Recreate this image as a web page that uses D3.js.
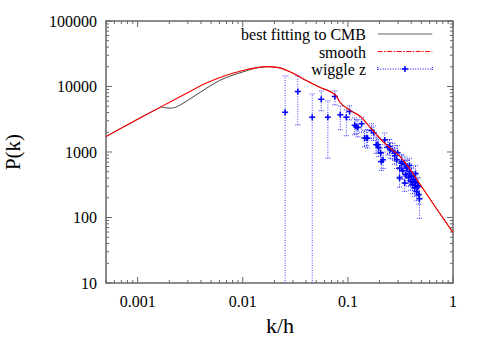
<!DOCTYPE html>
<html>
<head>
<meta charset="utf-8">
<script src="https://cdn.jsdelivr.net/npm/d3@7"></script>
<style>
  body { margin: 0; background: #fff; }
  text { font-family: "Liberation Serif", "DejaVu Serif", serif; fill: #000; }
</style>
</head>
<body>
<div id="chart"></div>
<script>
// smooth (no-wiggle) spectrum
const smoothK = [0.0005, 0.001, 0.00173, 0.0025, 0.00334, 0.0045, 0.006, 0.008, 0.01, 0.014, 0.017, 0.022, 0.0278, 0.0402, 0.0537, 0.072, 0.0775, 0.0832, 0.1035, 0.134, 0.15, 0.216, 0.334, 0.5, 0.7, 1];
const smoothP = [1720, 3170, 5060, 6900, 8870, 11300, 13600, 15900, 17500, 19600, 20100, 19400, 16900, 12300, 9750, 7910, 7200, 5890, 4400, 3400, 2760, 1440, 760, 300, 135, 59];

// best fitting to CMB (dips at low k)
const cmbK = [0.0005, 0.001, 0.0015, 0.0017, 0.0019, 0.0021, 0.0025, 0.003, 0.004, 0.006, 0.01, 0.014, 0.017, 0.022, 0.0278, 0.0402, 0.0537, 0.072, 0.0775, 0.0832, 0.1035, 0.134, 0.15, 0.216, 0.334, 0.5, 0.7, 1];
const cmbP = [1720, 3170, 4450, 4850, 4700, 4680, 5150, 6150, 8300, 12300, 16700, 19400, 20100, 19400, 16900, 12300, 9750, 7910, 7200, 5890, 4400, 3400, 2760, 1440, 760, 300, 135, 59];

// wiggle z data with error bars
const wzK = [0.0253, 0.0334, 0.0458, 0.0558, 0.0645, 0.0752, 0.0847, 0.0966, 0.1038, 0.116, 0.1245, 0.135, 0.144, 0.154, 0.168, 0.176, 0.186, 0.196, 0.205, 0.216, 0.224, 0.24, 0.252, 0.267, 0.279, 0.291, 0.297, 0.311, 0.325, 0.333, 0.348, 0.356, 0.367, 0.378, 0.387, 0.396, 0.404, 0.413, 0.423, 0.432, 0.442, 0.452, 0.462, 0.48, 0.472,
  0.12, 0.15, 0.193, 0.249, 0.279, 0.208, 0.322, 0.36, 0.31, 0.402, 0.432, 0.464, 0.347, 0.385, 0.44];
const wzP = [4060, 8360, 3400, 6400, 3400, 7010, 3690, 3400, 4140, 2550, 2370, 2690, 1640, 1620, 2130, 1960, 1290, 1160, 970, 760, 1530, 1190, 1080, 1040, 875, 760, 970, 570, 710, 516, 638, 449, 574, 405, 499, 352, 434, 316, 377, 285, 339, 247, 305, 194, 224,
  2450, 1630, 1290, 1210, 960, 716, 675, 568, 400, 424, 355, 298, 336, 620, 470];
const wzLo = [1, 2600, 1, 4250, 807, 5250, 2180, 1770, 3100, 1830, 1700, 2000, 1200, 1150, 1600, 1500, 950, 850, 700, 560, 1150, 900, 800, 780, 650, 560, 720, 420, 530, 380, 470, 330, 420, 300, 370, 260, 320, 230, 280, 210, 250, 180, 220, 97, 160,
  1900, 1250, 1000, 950, 740, 520, 500, 420, 290, 310, 260, 220, 250, 470, 350];
const wzHi = [14500, 14500, 7710, 8570, 6030, 8570, 5060, 4400, 5060, 3320, 3100, 3400, 2150, 2200, 2700, 2500, 1750, 1550, 1300, 1000, 1950, 1550, 1400, 1350, 1150, 1000, 1250, 760, 920, 690, 840, 600, 760, 540, 660, 470, 580, 430, 500, 390, 450, 340, 410, 290, 310,
  3100, 2100, 1650, 1550, 1250, 950, 880, 750, 540, 560, 470, 400, 450, 800, 620];

const xTicks = [0.001, 0.01, 0.1, 1];
const yTicks = [10, 100, 1000, 10000, 100000];
const legendLabels = ["best fitting to CMB", "smooth", "wiggle z"];

const w = 485;
const h = 339;
const m = { left: 106, right: 32, top: 21, bottom: 56 };
const serif = "Liberation Serif, DejaVu Serif, serif";

const svg = d3
  .select("#chart")
  .append("svg")
  .attr("width", w)
  .attr("height", h);

const x = d3.scaleLog().domain([0.0005, 1]).range([m.left, w - m.right]);
const y = d3.scaleLog().domain([10, 100000]).range([h - m.bottom, m.top]);

svg.append("clipPath").attr("id", "clip")
  .append("rect")
  .attr("x", m.left).attr("y", m.top)
  .attr("width", w - m.left - m.right)
  .attr("height", h - m.top - m.bottom);

// minor + major ticks on all four sides, pointing inward
const axisColor = "#666";
const xMinor = [];
for (let e = -4; e <= 0; e++) for (let d = 1; d < 10; d++) {
  const v = d * Math.pow(10, e);
  if (v >= 0.0005 && v <= 1) xMinor.push(v);
}
const yMinor = [];
for (let e = 1; e <= 5; e++) for (let d = 1; d < 10; d++) {
  const v = d * Math.pow(10, e);
  if (v <= 100000) yMinor.push(v);
}

const ticks = svg.append("g").attr("stroke", axisColor).attr("stroke-width", 1);
xMinor.forEach((v) => {
  const len = xTicks.includes(v) ? 6 : 3;
  ticks.append("line").attr("x1", x(v)).attr("x2", x(v)).attr("y1", y.range()[0]).attr("y2", y.range()[0] - len);
  ticks.append("line").attr("x1", x(v)).attr("x2", x(v)).attr("y1", m.top).attr("y2", m.top + len);
});
yMinor.forEach((v) => {
  const len = yTicks.includes(v) ? 6 : 3;
  ticks.append("line").attr("y1", y(v)).attr("y2", y(v)).attr("x1", m.left).attr("x2", m.left + len);
  ticks.append("line").attr("y1", y(v)).attr("y2", y(v)).attr("x1", w - m.right).attr("x2", w - m.right - len);
});

svg.append("rect")
  .attr("x", m.left).attr("y", m.top)
  .attr("width", w - m.left - m.right)
  .attr("height", h - m.top - m.bottom)
  .attr("fill", "none")
  .attr("stroke", axisColor)
  .attr("stroke-width", 1.5);

// tick labels
svg.selectAll(".xl")
  .data(xTicks)
  .join("text")
  .attr("x", (d) => x(d))
  .attr("y", h - m.bottom + 24)
  .attr("text-anchor", "middle")
  .attr("font-family", serif)
  .attr("font-size", "16px")
  .text((d) => d);

svg.selectAll(".yl")
  .data(yTicks)
  .join("text")
  .attr("x", m.left - 9)
  .attr("y", (d) => y(d) + 5.5)
  .attr("text-anchor", "end")
  .attr("font-family", serif)
  .attr("font-size", "16px")
  .text((d) => d);

svg.append("text")
  .attr("x", 280)
  .attr("y", 333)
  .attr("text-anchor", "middle")
  .attr("font-family", serif)
  .attr("font-size", "22px")
  .text("k/h");

svg.append("text")
  .attr("transform", "translate(20,152) rotate(-90)")
  .attr("text-anchor", "middle")
  .attr("font-family", serif)
  .attr("font-size", "21px")
  .text("P(k)");

const plot = svg.append("g").attr("clip-path", "url(#clip)");

const line = d3.line().x((d) => x(d[0])).y((d) => y(d[1])).curve(d3.curveMonotoneX);

// wiggle z error bars
const wz = wzK.map((k, i) => ({ k: k, p: wzP[i], lo: wzLo[i], hi: wzHi[i] }));
const bars = plot.append("g").attr("stroke", "#0000ff").attr("stroke-width", 1);
bars.selectAll(".eb")
  .data(wz)
  .join("line")
  .attr("x1", (d) => x(d.k)).attr("x2", (d) => x(d.k))
  .attr("y1", (d) => y(d.lo)).attr("y2", (d) => y(d.hi))
  .attr("stroke-dasharray", "1,1.5")
  .attr("opacity", 0.75);
bars.selectAll(".capt")
  .data(wz)
  .join("line")
  .attr("x1", (d) => x(d.k) - 2.5).attr("x2", (d) => x(d.k) + 2.5)
  .attr("y1", (d) => y(d.hi)).attr("y2", (d) => y(d.hi))
  .attr("stroke-dasharray", "1,1")
  .attr("opacity", 0.75);
bars.selectAll(".capb")
  .data(wz)
  .join("line")
  .attr("x1", (d) => x(d.k) - 2.5).attr("x2", (d) => x(d.k) + 2.5)
  .attr("y1", (d) => y(d.lo)).attr("y2", (d) => y(d.lo))
  .attr("stroke-dasharray", "1,1")
  .attr("opacity", 0.75);
bars.selectAll(".mark")
  .data(wz)
  .join("path")
  .attr("d", (d) => {
    const cx = x(d.k), cy = y(d.p);
    return `M${cx - 3},${cy}H${cx + 3}M${cx},${cy - 3}V${cy + 3}`;
  })
  .attr("stroke-width", 1.5);

// CMB best fit (grey/black)
plot.append("path")
  .datum(cmbK.map((k, i) => [k, cmbP[i]]))
  .attr("d", line)
  .attr("fill", "none")
  .attr("stroke", "#444")
  .attr("stroke-width", 1);

// smooth (red, drawn over the CMB line)
plot.append("path")
  .datum(smoothK.map((k, i) => [k, smoothP[i]]))
  .attr("d", line)
  .attr("fill", "none")
  .attr("stroke", "#ff0000")
  .attr("stroke-width", 1.1);

// legend
const legend = svg.append("g");
const lx0 = 377.7, lx1 = 432.3;
legend.selectAll("text")
  .data(legendLabels)
  .join("text")
  .attr("x", 366)
  .attr("y", (d, i) => 40 + i * 17.5)
  .attr("text-anchor", "end")
  .attr("font-family", serif)
  .attr("font-size", "16px")
  .text((d) => d);
legend.append("line")
  .attr("x1", lx0).attr("x2", lx1).attr("y1", 34).attr("y2", 34)
  .attr("stroke", "#999").attr("stroke-width", 1.5);
legend.append("line")
  .attr("x1", lx0).attr("x2", lx1).attr("y1", 51.5).attr("y2", 51.5)
  .attr("stroke", "#ff0000").attr("stroke-width", 1)
  .attr("stroke-dasharray", "5,1.5,1.5,1.5");
legend.append("line")
  .attr("x1", lx0).attr("x2", lx1).attr("y1", 69).attr("y2", 69)
  .attr("stroke", "#0000ff").attr("stroke-width", 1)
  .attr("stroke-dasharray", "1,1.5");
legend.append("path")
  .attr("d", `M${(lx0 + lx1) / 2 - 3},69H${(lx0 + lx1) / 2 + 3}M${(lx0 + lx1) / 2},66V72`)
  .attr("stroke", "#0000ff").attr("stroke-width", 1.5);
[lx0, lx1].forEach((lx) => {
  legend.append("line")
    .attr("x1", lx).attr("x2", lx).attr("y1", 67).attr("y2", 71)
    .attr("stroke", "#0000ff").attr("stroke-width", 1).attr("stroke-dasharray", "1,1");
});
</script>
</body>
</html>
